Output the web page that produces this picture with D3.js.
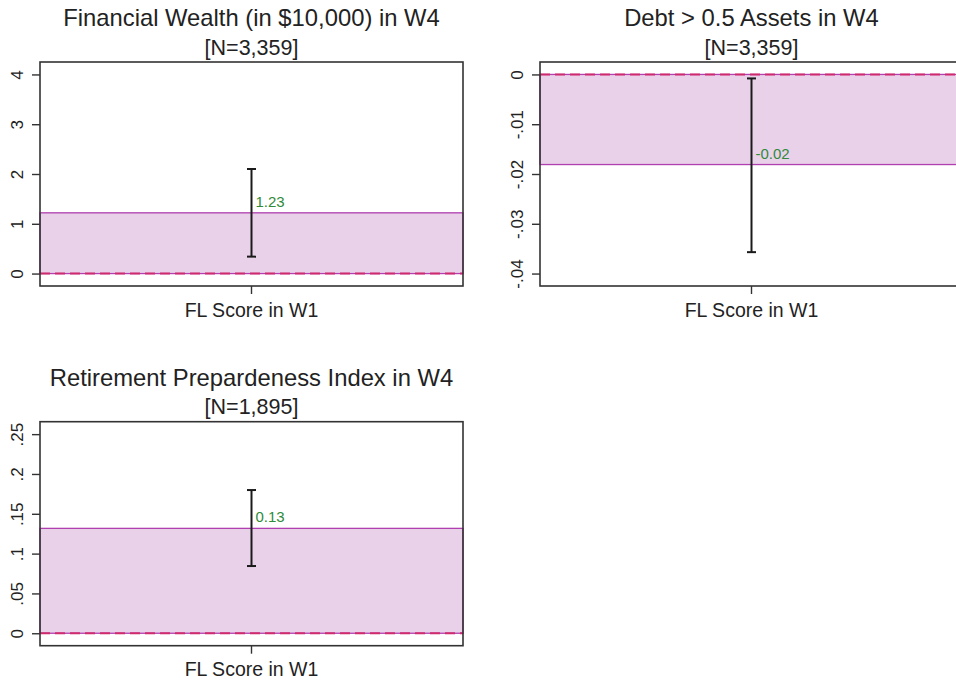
<!DOCTYPE html>
<html>
<head>
<meta charset="utf-8">
<script src="https://cdn.jsdelivr.net/npm/d3@7"></script>
<style>
  html, body { margin: 0; padding: 0; background: #fff; }
  svg { display: block; font-family: Arial, "Liberation Sans", Helvetica, sans-serif; }
</style>
</head>
<body>
<svg id="chart" width="956" height="681"></svg>
<script>
// ---- data ----
const titles = ["Financial Wealth (in $10,000) in W4", "Debt > 0.5 Assets in W4", "Retirement Prepardeness Index in W4"];
const nLabels = ["[N=3,359]", "[N=3,359]", "[N=1,895]"];
const categories = ["FL Score in W1"];
const estimates = [1.22, -0.0181, 0.1317];
const ciLow = [0.34, -0.0357, 0.0844];
const ciHigh = [2.10, -0.0008, 0.1798];
const valueLabels = ["1.23", "-0.02", "0.13"];
const yTicks = [[0, 1, 2, 3, 4], [0, -0.01, -0.02, -0.03, -0.04], [0, 0.05, 0.1, 0.15, 0.2, 0.25]];
const yTickLabels = [["0", "1", "2", "3", "4"], ["0", "-.01", "-.02", "-.03", "-.04"], ["0", ".05", ".1", ".15", ".2", ".25"]];

// ---- layout ----
const panelPos = [{x: 40, y: 62}, {x: 540, y: 62}, {x: 40, y: 421.7}];
const W = 423, H = 224;
const svg = d3.select("#chart");

panelPos.forEach((p, i) => {
  const g = svg.append("g").attr("transform", `translate(${p.x},${p.y})`);
  const ext = d3.extent(yTicks[i]);
  const pad = (ext[1] - ext[0]) * 0.0625;
  const y = d3.scaleLinear().domain([ext[0] - pad, ext[1] + pad]).range([H, 0]);
  const x = d3.scaleBand().domain(categories).range([0, W]).padding(0);
  const cat = categories[0];
  const cx = x(cat) + x.bandwidth() / 2;

  // bar (estimate)
  const v = estimates[i];
  g.append("rect")
    .attr("x", x(cat)).attr("width", x.bandwidth())
    .attr("y", y(Math.max(0, v))).attr("height", Math.abs(y(v) - y(0)))
    .attr("fill", "#e9d2e9").attr("stroke", "#b03fb0").attr("stroke-width", 1.3);

  // zero dashed reference line
  g.append("line")
    .attr("x1", 0).attr("x2", W).attr("y1", y(0)).attr("y2", y(0))
    .attr("stroke", "#cf2a6c").attr("stroke-width", 2).attr("stroke-dasharray", "10,5");

  // error bar
  const capW = 4.5;
  const eb = g.append("g").attr("stroke", "#1a1a1a").attr("stroke-width", 2);
  eb.append("line").attr("x1", cx).attr("x2", cx).attr("y1", y(ciLow[i])).attr("y2", y(ciHigh[i]));
  eb.append("line").attr("x1", cx - capW).attr("x2", cx + capW).attr("y1", y(ciLow[i])).attr("y2", y(ciLow[i]));
  eb.append("line").attr("x1", cx - capW).attr("x2", cx + capW).attr("y1", y(ciHigh[i])).attr("y2", y(ciHigh[i]));

  // value label
  g.append("text")
    .attr("x", cx + 4).attr("y", y(v) - 6)
    .attr("font-size", 15).attr("fill", "#2f8a3a")
    .text(valueLabels[i]);

  // frame
  g.append("rect").attr("x", 0).attr("y", 0).attr("width", W).attr("height", H)
    .attr("fill", "none").attr("stroke", "#333").attr("stroke-width", 1.6);

  // y axis
  const yAxis = d3.axisLeft(y).tickValues(yTicks[i]).tickSize(8)
    .tickFormat((d, k) => yTickLabels[i][k]);
  const ya = g.append("g").call(yAxis).attr("font-size", null).attr("font-family", null);
  ya.select(".domain").remove();
  ya.selectAll(".tick line").attr("stroke", "#333").attr("stroke-width", 1.4);
  ya.selectAll(".tick text")
    .attr("x", null).attr("dy", null)
    .attr("transform", "translate(-17,0) rotate(-90)")
    .attr("text-anchor", "middle")
    .style("font-size", "17px").attr("fill", "#222");

  // x axis
  const xAxis = d3.axisBottom(x).tickSize(8).tickFormat("");
  const xa = g.append("g").attr("transform", `translate(0,${H})`).call(xAxis);
  xa.select(".domain").remove();
  xa.selectAll(".tick line").attr("stroke", "#333").attr("stroke-width", 1.4);

  g.append("text")
    .attr("x", cx).attr("y", H + 30.5)
    .attr("text-anchor", "middle").attr("font-size", 19.5).attr("fill", "#222")
    .text(categories[0]);

  // titles
  g.append("text")
    .attr("x", W / 2).attr("y", -36)
    .attr("text-anchor", "middle").attr("font-size", 23.8).attr("fill", "#222")
    .text(titles[i]);
  g.append("text")
    .attr("x", W / 2).attr("y", -7.5)
    .attr("text-anchor", "middle").attr("font-size", 21.5).attr("fill", "#222")
    .text(nLabels[i]);
});
</script>
</body>
</html>
